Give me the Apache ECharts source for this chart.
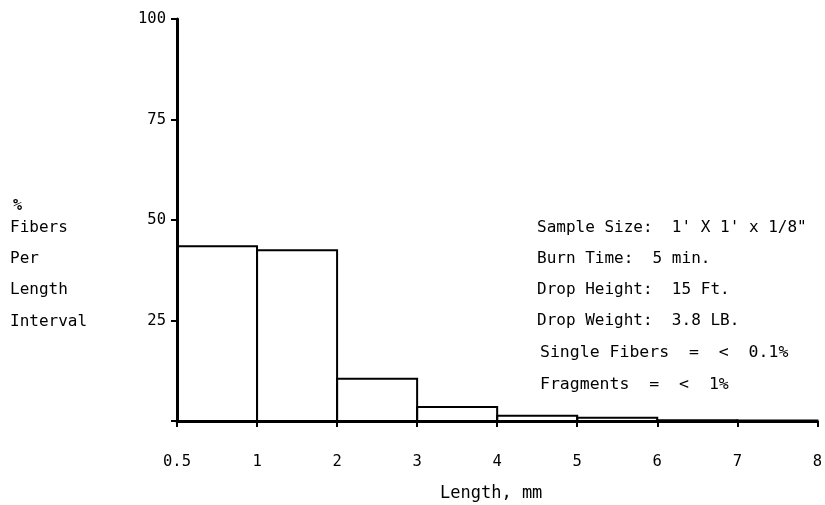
<!DOCTYPE html>
<html>
<head>
<meta charset="utf-8">
<script src="https://cdn.jsdelivr.net/npm/echarts@6/dist/echarts.min.js"></script>
<style>html,body{margin:0;padding:0;background:#fff}#c{width:825px;height:505px}</style>
</head>
<body>
<div id="c"></div>
<script>
// Bin edges shown as tick labels (equally spaced on the axis)
const tickLabels = ["0.5", "1", "2", "3", "4", "5", "6", "7", "8"];
// Percent of fibers in each length interval (bin i spans tick i to tick i+1)
const binValues = [43.5, 42.5, 10.5, 3.5, 1.3, 0.8, 0.2, 0.1];
const yTicks = [0, 25, 50, 75, 100];
const yTitleLines = ["%", "Fibers", "Per", "Length", "Interval"];
const noteLines = [
  "Sample Size:  1' X 1' x 1/8\"",
  "Burn Time:  5 min.",
  "Drop Height:  15 Ft.",
  "Drop Weight:  3.8 LB.",
  "Single Fibers  =  <  0.1%",
  "Fragments  =  <  1%"
];

const FONT = "'DejaVu Sans Mono', 'DejaVu Sans', sans-serif";
const chart = echarts.init(document.getElementById('c'), null, {renderer: 'canvas'});

const binData = binValues.map((v, i) => [i, i + 1, v]);

const titleY = [206, 228, 259, 290, 322];
const noteY = [228, 259, 290, 321, 353, 385];
const graphics = [];
yTitleLines.forEach((t, i) => {
  graphics.push({type: 'text', x: i === 0 ? 13 : 10, y: titleY[i],
    style: {text: t, font: (i === 0 ? "bold 15px " : "16px ") + FONT, fill: '#000', verticalAlign: 'middle'}});
});
noteLines.forEach((t, i) => {
  graphics.push({type: 'text', x: i >= 4 ? 540 : 537, y: noteY[i],
    style: {text: t, font: (i >= 4 ? "16.5px " : "16px ") + FONT, fill: '#000', verticalAlign: 'middle'}});
});
graphics.push({type: 'text', x: 440, y: 494,
  style: {text: "Length, mm", font: "17px " + FONT, fill: '#000', verticalAlign: 'middle'}});

chart.setOption({
  animation: false,
  backgroundColor: '#fff',
  grid: {left: 177, right: 7, top: 19, bottom: 84, containLabel: false},
  xAxis: {
    type: 'value', min: 0, max: 8, interval: 1,
    axisLine: {show: true, lineStyle: {color: '#000', width: 3}},
    axisTick: {show: true, inside: false, length: 6, lineStyle: {color: '#000', width: 2}},
    axisLabel: {color: '#000', fontFamily: FONT, fontSize: 15.5, margin: 33,
      formatter: v => tickLabels[Math.round(v)] ?? ''},
    splitLine: {show: false}
  },
  yAxis: {
    type: 'value', min: 0, max: 100, interval: 25,
    axisLine: {show: true, lineStyle: {color: '#000', width: 3}},
    axisTick: {show: true, length: 6, lineStyle: {color: '#000', width: 2}},
    axisLabel: {color: '#000', fontFamily: FONT, fontSize: 15.5, margin: 11,
      formatter: v => (v === 0 ? '' : (yTicks.includes(v) ? String(v) : ''))},
    splitLine: {show: false}
  },
  series: [{
    type: 'custom',
    data: binData,
    renderItem: function (params, api) {
      const x0 = api.value(0), x1 = api.value(1), v = api.value(2);
      const p0 = api.coord([x0, 0]);
      const p1 = api.coord([x1, v]);
      return {
        type: 'rect',
        shape: {x: p0[0], y: p1[1], width: p1[0] - p0[0], height: p0[1] - p1[1]},
        style: {fill: 'none', stroke: '#000', lineWidth: 2}
      };
    },
    encode: {x: [0, 1], y: 2}
  }],
  graphic: graphics
});
</script>
</body>
</html>
